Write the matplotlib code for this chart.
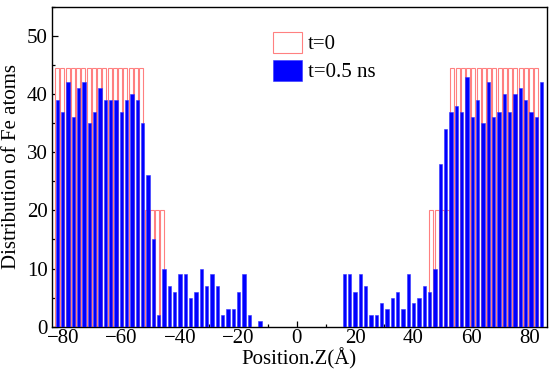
import numpy as np
import matplotlib
matplotlib.use("Agg")
import matplotlib.pyplot as plt
from matplotlib.ticker import MultipleLocator

plt.rcParams['font.family'] = ['Liberation Serif', 'DejaVu Serif']
plt.rcParams['mathtext.fontset'] = 'stix'

# ---- data ----
# t = 0 (initial) distribution, bins of ~1.80 Å
t0_left_start, t0_right_start, t0_step = -82.1, 46.2, 1.80
t0_left = [44.5] * 17 + [20] * 4
t0_right = [20] * 4 + [44.5] * 17

# t = 0.5 ns distribution, bins of ~1.83 Å
t5_left_start, t5_right_start, t5_step = -82.07, 16.32, 1.828
t5_left = [39, 37, 42, 36, 41, 42, 35, 37, 41, 39, 39, 39, 37, 39, 40, 39, 35,
           26, 15, 2, 10, 7, 6, 9, 9, 5, 6, 10, 7, 9, 7, 2, 3, 3, 6, 9, 2, 0, 1]
t5_right = [9, 9, 6, 9, 7, 2, 2, 4, 3, 5, 6, 3, 9, 4, 5, 7, 6, 10,
            28, 34, 37, 38, 37, 43, 36, 39, 35, 42, 36, 37, 40, 37, 40, 41, 39, 37, 36, 42]

x_ticks = [-80, -60, -40, -20, 0, 20, 40, 60, 80]
y_ticks = [0, 10, 20, 30, 40, 50]

# positions (bin centres)
z0_l = t0_left_start + t0_step * np.arange(len(t0_left))
z0_r = t0_right_start + t0_step * np.arange(len(t0_right))
z5_l = t5_left_start + t5_step * np.arange(len(t5_left))
z5_r = t5_right_start + t5_step * np.arange(len(t5_right))

fig = plt.figure(figsize=(5.5, 3.79), dpi=100)
ax = fig.add_axes([0.094, 0.138, 0.900, 0.844])

red_edge = '#ff8080'
ax.bar(np.concatenate([z0_l, z0_r]), t0_left + t0_right, width=1.37,
       facecolor='white', edgecolor=red_edge, linewidth=0.8, zorder=2,
       label='t=0')
ax.bar(np.concatenate([z5_l, z5_r]), t5_left + t5_right, width=1.2,
       facecolor='#0000ff', edgecolor='#3535ff', linewidth=0.4, zorder=3,
       label='t=0.5 ns')

ax.set_xlim(-84.0, 85.7)
ax.set_ylim(0, 55)
ax.set_xticks(x_ticks)
ax.set_xticklabels(['\u2212' + str(-v) if v < 0 else str(v) for v in x_ticks])
ax.set_yticks(y_ticks)
ax.xaxis.set_minor_locator(MultipleLocator(10))
ax.yaxis.set_minor_locator(MultipleLocator(5))
ax.tick_params(which='both', direction='in', top=False, right=False,
               labelsize=15, width=0.9, color='black')
ax.tick_params(which='major', length=4.5)
ax.tick_params(which='minor', length=2.5)
ax.tick_params(axis='x', pad=2)
ax.tick_params(axis='y', pad=3)
for s in ax.spines.values():
    s.set_linewidth(1.0)

ax.set_xlabel('Position.Z(Å)', fontsize=15, labelpad=0)
ax.set_ylabel('Distribution of Fe atoms', fontsize=15, labelpad=4)

leg = ax.legend(loc='upper left', bbox_to_anchor=(0.417, 0.968), frameon=False,
                fontsize=15, handlelength=1.4, handleheight=1.2,
                handletextpad=0.3, labelspacing=0.25, borderpad=0.2)

fig.savefig('out.png', dpi=100)
